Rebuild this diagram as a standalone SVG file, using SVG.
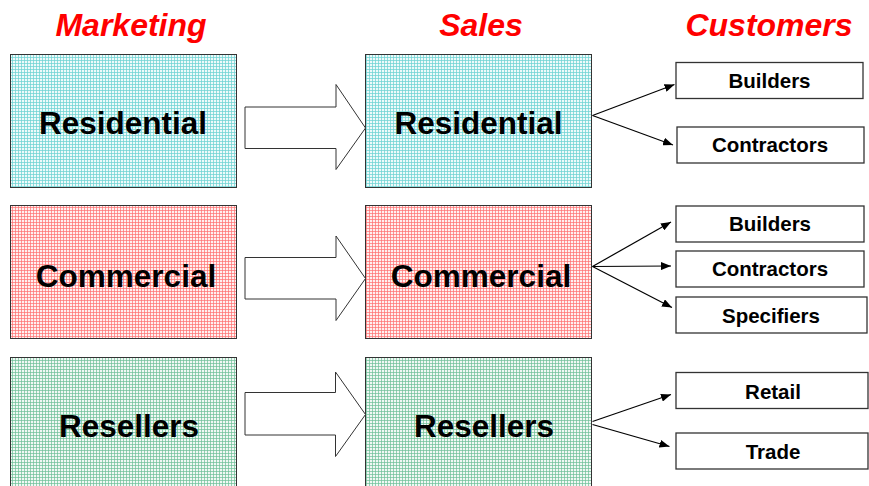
<svg xmlns="http://www.w3.org/2000/svg" width="869" height="486" viewBox="0 0 869 486">
  <defs>
    <!-- fine woven grid fills for the segment boxes -->
    <pattern id="gridCyan" width="3" height="3" patternUnits="userSpaceOnUse">
      <rect width="3" height="3" fill="#eefafa"/>
      <rect x="0" y="0" width="1" height="3" fill="#6fd3d3" fill-opacity="0.75"/>
      <rect x="0" y="0" width="3" height="1" fill="#6fd3d3" fill-opacity="0.75"/>
    </pattern>
    <pattern id="gridRed" width="3" height="3" patternUnits="userSpaceOnUse">
      <rect width="3" height="3" fill="#fff0f0"/>
      <rect x="0" y="0" width="1" height="3" fill="#ff7070" fill-opacity="0.7"/>
      <rect x="0" y="0" width="3" height="1" fill="#ff7070" fill-opacity="0.7"/>
    </pattern>
    <pattern id="gridGreen" width="3" height="3" patternUnits="userSpaceOnUse">
      <rect width="3" height="3" fill="#f0f8f4"/>
      <rect x="0" y="0" width="1" height="3" fill="#6cbf98" fill-opacity="0.7"/>
      <rect x="0" y="0" width="3" height="1" fill="#6cbf98" fill-opacity="0.7"/>
    </pattern>
    <marker id="arrow" viewBox="0 0 10 8" refX="10" refY="4" markerWidth="10" markerHeight="8" markerUnits="userSpaceOnUse" orient="auto">
      <path d="M0,0 L10,4 L0,8 Z" fill="#000"/>
    </marker>
  </defs>
  <style>
    .head { font-family: "Liberation Sans", Arial, sans-serif; font-weight: bold; font-style: italic; font-size: 32px; fill: #ff0000; text-anchor: middle; }
    .seg { stroke: #333; stroke-width: 1; }
    .segText { font-family: "Liberation Sans", Arial, sans-serif; font-weight: bold; font-size: 31.5px; fill: #000; text-anchor: middle; }
    .cust { fill: #fff; stroke: #333; stroke-width: 1.3; }
    .custText { font-family: "Liberation Sans", Arial, sans-serif; font-weight: bold; font-size: 20.5px; fill: #000; text-anchor: middle; }
    .block { fill: #fff; stroke: #333; stroke-width: 1; }
    .link { stroke: #000; stroke-width: 1.2; fill: none; marker-end: url(#arrow); }
  </style>

  <rect width="869" height="486" fill="#fff"/>

  <!-- column headings -->
  <g id="headings">
    <text class="head" x="131" y="36">Marketing</text>
    <text class="head" x="481" y="36">Sales</text>
    <text class="head" x="769" y="36">Customers</text>
  </g>

  <!-- marketing segments -->
  <g id="mkt-residential">
    <rect class="seg" x="10.5" y="54.5" width="226" height="133" fill="url(#gridCyan)"/>
    <text class="segText" x="123" y="134">Residential</text>
  </g>
  <g id="mkt-commercial">
    <rect class="seg" x="10.5" y="205.5" width="226" height="133" fill="url(#gridRed)"/>
    <text class="segText" x="126" y="287">Commercial</text>
  </g>
  <g id="mkt-resellers">
    <rect class="seg" x="10.5" y="357.5" width="226" height="134" fill="url(#gridGreen)"/>
    <text class="segText" x="129" y="437">Resellers</text>
  </g>

  <!-- sales segments -->
  <g id="sales-residential">
    <rect class="seg" x="365.5" y="54.5" width="226" height="133" fill="url(#gridCyan)"/>
    <text class="segText" x="478.5" y="134">Residential</text>
  </g>
  <g id="sales-commercial">
    <rect class="seg" x="365.5" y="205.5" width="226" height="133" fill="url(#gridRed)"/>
    <text class="segText" x="481" y="287">Commercial</text>
  </g>
  <g id="sales-resellers">
    <rect class="seg" x="365.5" y="357.5" width="226" height="134" fill="url(#gridGreen)"/>
    <text class="segText" x="484" y="437">Resellers</text>
  </g>

  <!-- customer groups -->
  <g id="res-builders">
    <rect class="cust" x="676" y="62.5" width="187" height="36"/>
    <text class="custText" x="769.5" y="88">Builders</text>
  </g>
  <g id="res-contractors">
    <rect class="cust" x="677" y="127" width="187" height="36"/>
    <text class="custText" x="770" y="152">Contractors</text>
  </g>
  <g id="com-builders">
    <rect class="cust" x="676" y="206" width="188" height="36"/>
    <text class="custText" x="770" y="231">Builders</text>
  </g>
  <g id="com-contractors">
    <rect class="cust" x="676" y="251" width="188" height="36"/>
    <text class="custText" x="770" y="276">Contractors</text>
  </g>
  <g id="com-specifiers">
    <rect class="cust" x="676" y="297" width="191" height="36"/>
    <text class="custText" x="771" y="323">Specifiers</text>
  </g>
  <g id="rsl-retail">
    <rect class="cust" x="676" y="372.5" width="192" height="36"/>
    <text class="custText" x="773" y="399">Retail</text>
  </g>
  <g id="rsl-trade">
    <rect class="cust" x="676" y="433" width="192" height="36"/>
    <text class="custText" x="773" y="459">Trade</text>
  </g>

  <!-- connectors: block arrows from marketing to sales, fan-out lines to customers -->
  <g id="connectors">
    <polygon class="block" points="245,107 336,107 336,84.5 365.5,128 336,169.5 336,148.5 245,148.5"/>
    <polygon class="block" points="245,257.5 336,257.5 336,236 365.5,278.5 336,320.5 336,299 245,299"/>
    <polygon class="block" points="245,392.5 335.5,392.5 335.5,372 365.5,414.5 335.5,456.5 335.5,435 245,435"/>

    <line class="link" x1="592.5" y1="115.5" x2="674.5" y2="84.5"/>
    <line class="link" x1="592.5" y1="115.5" x2="673" y2="145"/>

    <line class="link" x1="592.5" y1="266.5" x2="671" y2="222"/>
    <line class="link" x1="592.5" y1="266.5" x2="671" y2="266"/>
    <line class="link" x1="592.5" y1="266.5" x2="672" y2="307.5"/>

    <line class="link" x1="592.5" y1="421.5" x2="671" y2="394.5"/>
    <line class="link" x1="592.5" y1="424.5" x2="669.5" y2="446.5"/>
  </g>
</svg>
